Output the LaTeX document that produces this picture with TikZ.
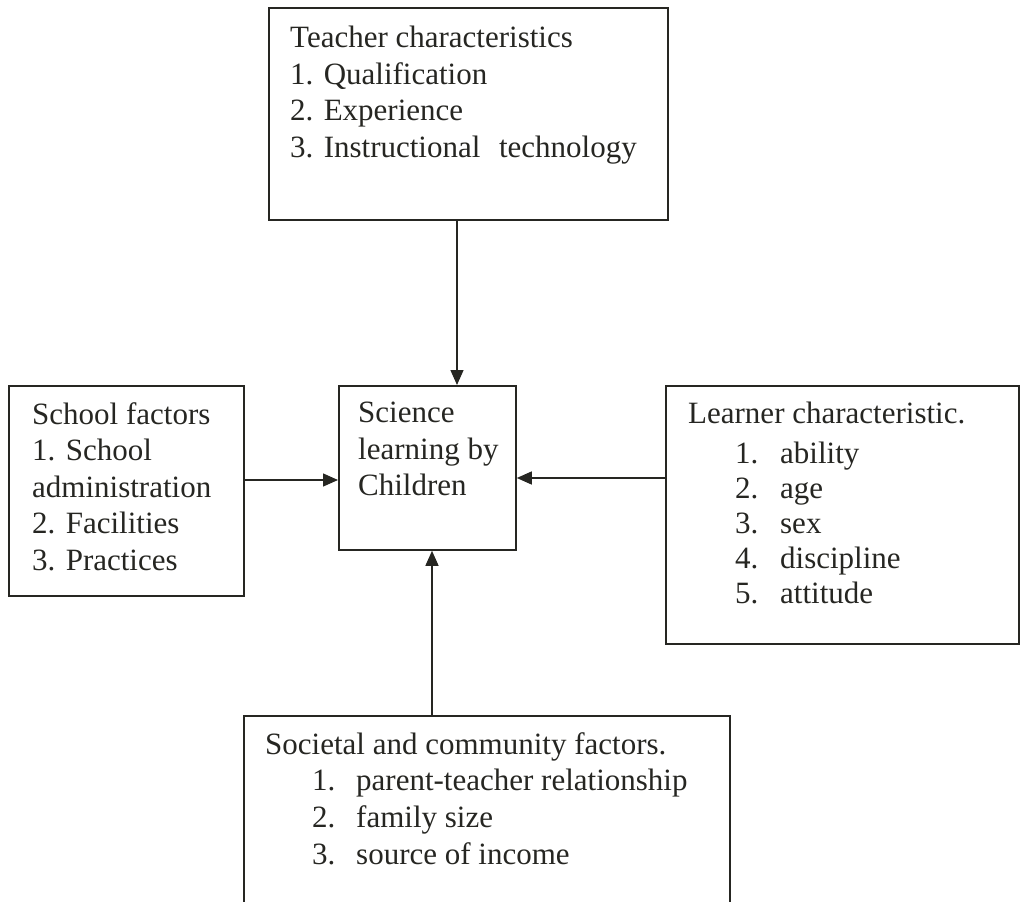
\documentclass[tikz,border=0pt]{standalone}
\usepackage{fontspec}
\setmainfont{Liberation Serif}
\usetikzlibrary{arrows.meta,calc}
\definecolor{ink}{RGB}{38,38,34}
\begin{document}
\begin{tikzpicture}[x=1pt,y=-1pt,
  boxshape/.style={draw=ink,line width=1.8pt,rectangle,inner sep=0pt,anchor=north west},
  txt/.style={text=ink,anchor=north west,inner sep=0pt,align=left,font=\fontsize{31}{36.5}\selectfont},
  arr/.style={draw=ink,line width=1.4pt,-{Triangle[length=15pt,width=13pt]}}]
\useasboundingbox (0,0) rectangle (1021,902);
\clip (0,0) rectangle (1021,902);
% boxes
\node[boxshape,minimum width=399pt,minimum height=212pt] (teacher) at (268,7) {};
\node[boxshape,minimum width=235pt,minimum height=210pt] (school) at (8,385) {};
\node[boxshape,minimum width=177pt,minimum height=164pt] (center) at (338,385) {};
\node[boxshape,minimum width=353pt,minimum height=258pt] (learner) at (665,385) {};
\node[boxshape,minimum width=486pt,minimum height=220pt] (society) at (243,715) {};
% texts
\node[txt] (teachertxt) at (290,26) {Teacher characteristics\\1. Qualification\\2. Experience\\3. Instructional\hspace{0.6em}technology};
\node[txt] (schooltxt) at (32,402) {School factors\\1. School\\administration\\2. Facilities\\3. Practices};
\node[txt] (centertxt) at (358,402) {Science\\learning by\\Children};
\node[txt] (learnerhead) at (688,402) {Learner characteristic.};
\node[txt,font=\fontsize{31}{35}\selectfont] (learnerlist) at (735,442) {%
\makebox[45pt][l]{1.}ability\\\makebox[45pt][l]{2.}age\\\makebox[45pt][l]{3.}sex\\\makebox[45pt][l]{4.}discipline\\\makebox[45pt][l]{5.}attitude};
\node[txt] (societyhead) at (265,732) {Societal and community factors.};
\node[txt,font=\fontsize{31}{37}\selectfont] (societylist) at (312,769) {%
\makebox[44pt][l]{1.}parent-teacher relationship\\\makebox[44pt][l]{2.}family size\\\makebox[44pt][l]{3.}source of income};
% connectors
\coordinate (ax) at (457,0);
\coordinate (bx) at (432,0);
\coordinate (ly) at (0,480);
\coordinate (ry) at (0,478);
\draw[arr] (teacher.south -| ax) -- (center.north -| ax);
\draw[arr] (school.east |- ly) -- (center.west |- ly);
\draw[arr] (learner.west |- ry) -- (center.east |- ry);
\draw[arr] (society.north -| bx) -- (center.south -| bx);
\end{tikzpicture}
\end{document}
